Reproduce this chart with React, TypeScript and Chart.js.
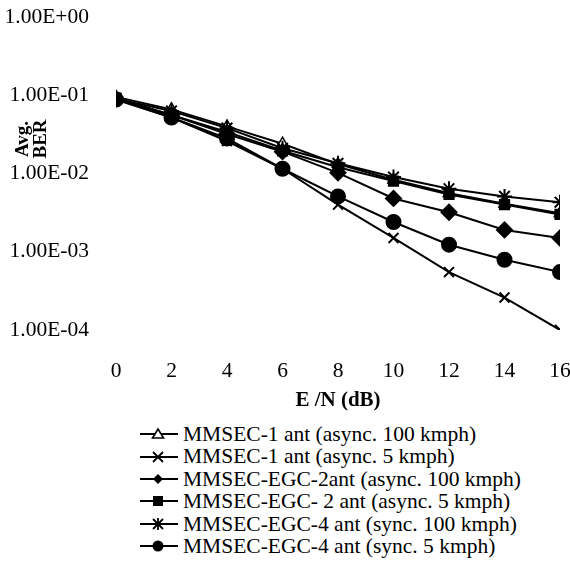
import React, { useEffect, useRef } from "react";
import { Chart, registerables } from "chart.js";

Chart.register(...registerables);

// ---------- data ----------
const snrDb = [0, 2, 4, 6, 8, 10, 12, 14, 16];

const ber1Ant100 = [0.095, 0.066, 0.04, 0.024, 0.0132, 0.0083, 0.0056, 0.0041, 0.0031];
const ber1Ant5 = [0.09, 0.052, 0.026, 0.0115, 0.004, 0.0015, 0.00055, 0.00026, 0.0001];
const berEgc2Ant100 = [0.09, 0.056, 0.032, 0.019, 0.0102, 0.0048, 0.0032, 0.0019, 0.0015];
const berEgc2Ant5 = [0.092, 0.056, 0.034, 0.0195, 0.012, 0.008, 0.0054, 0.004, 0.003];
const berEgc4Ant100 = [0.09, 0.063, 0.038, 0.021, 0.0135, 0.009, 0.0064, 0.0051, 0.0043];
const berEgc4Ant5 = [0.088, 0.052, 0.028, 0.0115, 0.0051, 0.0024, 0.00123, 0.00079, 0.00055];

const seriesNames = [
  "MMSEC-1 ant (async. 100 kmph)",
  "MMSEC-1 ant (async. 5 kmph)",
  "MMSEC-EGC-2ant (async. 100 kmph)",
  "MMSEC-EGC- 2 ant (async. 5 kmph)",
  "MMSEC-EGC-4 ant (sync. 100 kmph)",
  "MMSEC-EGC-4 ant (sync. 5 kmph)",
];

const yTickValues = [1, 0.1, 0.01, 0.001, 0.0001];
const yTickLabels = ["1.00E+00", "1.00E-01", "1.00E-02", "1.00E-03", "1.00E-04"];
const xTickValues = [0, 2, 4, 6, 8, 10, 12, 14, 16];

const xTitle = "E /N (dB)";
const yTitleLines = ["Avg.", "BER"];

// ---------- styles ----------
const SERIF = "'Liberation Serif', 'Times New Roman', serif";
const markerStyles = ["triangle", "crossRot", "rectRot", "rect", "star", "circle"];
const markerRadius = [6.5, 7, 7.5, 6.5, 7.5, 7];
const markerFill = ["#ffffff", "#000000", "#000000", "#000000", "#000000", "#000000"];
const drawOrder = [10, 0, 0, 0, 0, 0];

const seriesData = [ber1Ant100, ber1Ant5, berEgc2Ant100, berEgc2Ant5, berEgc4Ant100, berEgc4Ant5];

function LegendMarker({ kind }: { kind: string }) {
  const cx = 19;
  const cy = 8;
  let shape: React.ReactNode = null;
  if (kind === "triangle") {
    shape = <polygon points={`${cx},${cy - 5} ${cx + 5.5},${cy + 4} ${cx - 5.5},${cy + 4}`} fill="#fff" stroke="#000" strokeWidth={1.6} />;
  } else if (kind === "crossRot") {
    shape = (
      <g stroke="#000" strokeWidth={1.8}>
        <line x1={cx - 5} y1={cy - 5} x2={cx + 5} y2={cy + 5} />
        <line x1={cx - 5} y1={cy + 5} x2={cx + 5} y2={cy - 5} />
      </g>
    );
  } else if (kind === "rectRot") {
    shape = <polygon points={`${cx},${cy - 5} ${cx + 5},${cy} ${cx},${cy + 5} ${cx - 5},${cy}`} fill="#000" />;
  } else if (kind === "rect") {
    shape = <rect x={cx - 5} y={cy - 5} width={10} height={10} fill="#000" />;
  } else if (kind === "star") {
    shape = (
      <g stroke="#000" strokeWidth={1.8}>
        <line x1={cx - 5} y1={cy - 5} x2={cx + 5} y2={cy + 5} />
        <line x1={cx - 5} y1={cy + 5} x2={cx + 5} y2={cy - 5} />
        <line x1={cx} y1={cy - 6} x2={cx} y2={cy + 6} />
      </g>
    );
  } else {
    shape = <circle cx={cx} cy={cy} r={5.5} fill="#000" />;
  }
  return (
    <svg width={40} height={16} style={{ display: "block" }}>
      <line x1={1} y1={cy} x2={39} y2={cy} stroke="#000" strokeWidth={2} />
      {shape}
    </svg>
  );
}

const yTitlePlugin = {
  id: "yTitleOverlay",
  afterDraw(chart: any) {
    const ctx = chart.ctx;
    ctx.save();
    ctx.fillStyle = "#000";
    ctx.font = `bold 19px ${SERIF}`;
    ctx.textAlign = "center";
    ctx.textBaseline = "middle";
    const xs = [23, 41];
    yTitleLines.forEach((t, i) => {
      ctx.save();
      ctx.translate(xs[i], 139);
      ctx.rotate(-Math.PI / 2);
      ctx.fillText(t, 0, 0);
      ctx.restore();
    });
    ctx.restore();
  },
};

export default function App() {
  const canvasRef = useRef<HTMLCanvasElement | null>(null);

  useEffect(() => {
    if (!canvasRef.current) return;
    const chart = new Chart(canvasRef.current, {
      type: "line",
      data: {
        datasets: seriesData.map((d, i) => ({
          label: seriesNames[i],
          data: snrDb.map((x, j) => ({ x, y: d[j] })),
          order: drawOrder[i],
          borderColor: "#000",
          borderWidth: 2,
          pointStyle: markerStyles[i] as any,
          pointRadius: markerRadius[i],
          pointBackgroundColor: markerFill[i],
          pointBorderColor: "#000",
          pointBorderWidth: i === 0 ? 1.5 : 2,
          tension: 0,
          fill: false,
        })),
      },
      options: {
        animation: false,
        responsive: false,
        maintainAspectRatio: false,
        layout: { padding: { left: 0, right: 10, top: 17, bottom: 0 } },
        plugins: {
          legend: { display: false },
          tooltip: { enabled: false },
        },
        scales: {
          x: {
            type: "linear",
            min: 0,
            max: 16,
            grid: { display: false, drawTicks: false },
            border: { display: false },
            afterBuildTicks: (scale: any) => {
              scale.ticks = xTickValues.map((v) => ({ value: v }));
            },
            afterFit: (scale: any) => {
              scale.height = 90;
              scale.paddingLeft = 0;
              scale.paddingRight = 0;
            },
            ticks: {
              color: "#000",
              font: { family: SERIF, size: 21.5 },
              padding: 28,
              maxRotation: 0,
              autoSkip: false,
            },
            title: {
              display: true,
              text: xTitle,
              color: "#000",
              font: { family: SERIF, size: 21, weight: "bold" },
              padding: { top: 0, bottom: 7 },
            },
          },
          y: {
            type: "logarithmic",
            min: 0.0001,
            max: 1,
            grid: { display: false, drawTicks: false },
            border: { display: false },
            afterBuildTicks: (scale: any) => {
              scale.ticks = yTickValues.map((v) => ({ value: v }));
            },
            afterFit: (scale: any) => {
              scale.width = 116;
              scale.paddingTop = 0;
              scale.paddingBottom = 0;
            },
            ticks: {
              color: "#000",
              font: { family: SERIF, size: 21.5 },
              padding: 27,
              autoSkip: false,
              callback: (value: any) => {
                const idx = yTickValues.findIndex((v) => Math.abs(v - Number(value)) < v * 1e-6);
                return idx >= 0 ? yTickLabels[idx] : "";
              },
            },
          },
        },
      },
      plugins: [yTitlePlugin],
    });
    return () => chart.destroy();
  }, []);

  return (
    <div style={{ position: "fixed", left: 0, top: 0, width: 570, height: 577, background: "#fff" }}>
      <canvas ref={canvasRef} width={570} height={420} style={{ position: "absolute", left: 0, top: 0 }} />
      <div style={{ position: "absolute", left: 139, top: 423, fontFamily: SERIF, fontSize: 21.5, color: "#000" }}>
        {seriesNames.map((name, i) => (
          <div key={name} style={{ display: "flex", alignItems: "center", height: 22.4, whiteSpace: "nowrap" }}>
            <LegendMarker kind={markerStyles[i]} />
            <span style={{ marginLeft: 4, lineHeight: "22.4px" }}>{name}</span>
          </div>
        ))}
      </div>
    </div>
  );
}
